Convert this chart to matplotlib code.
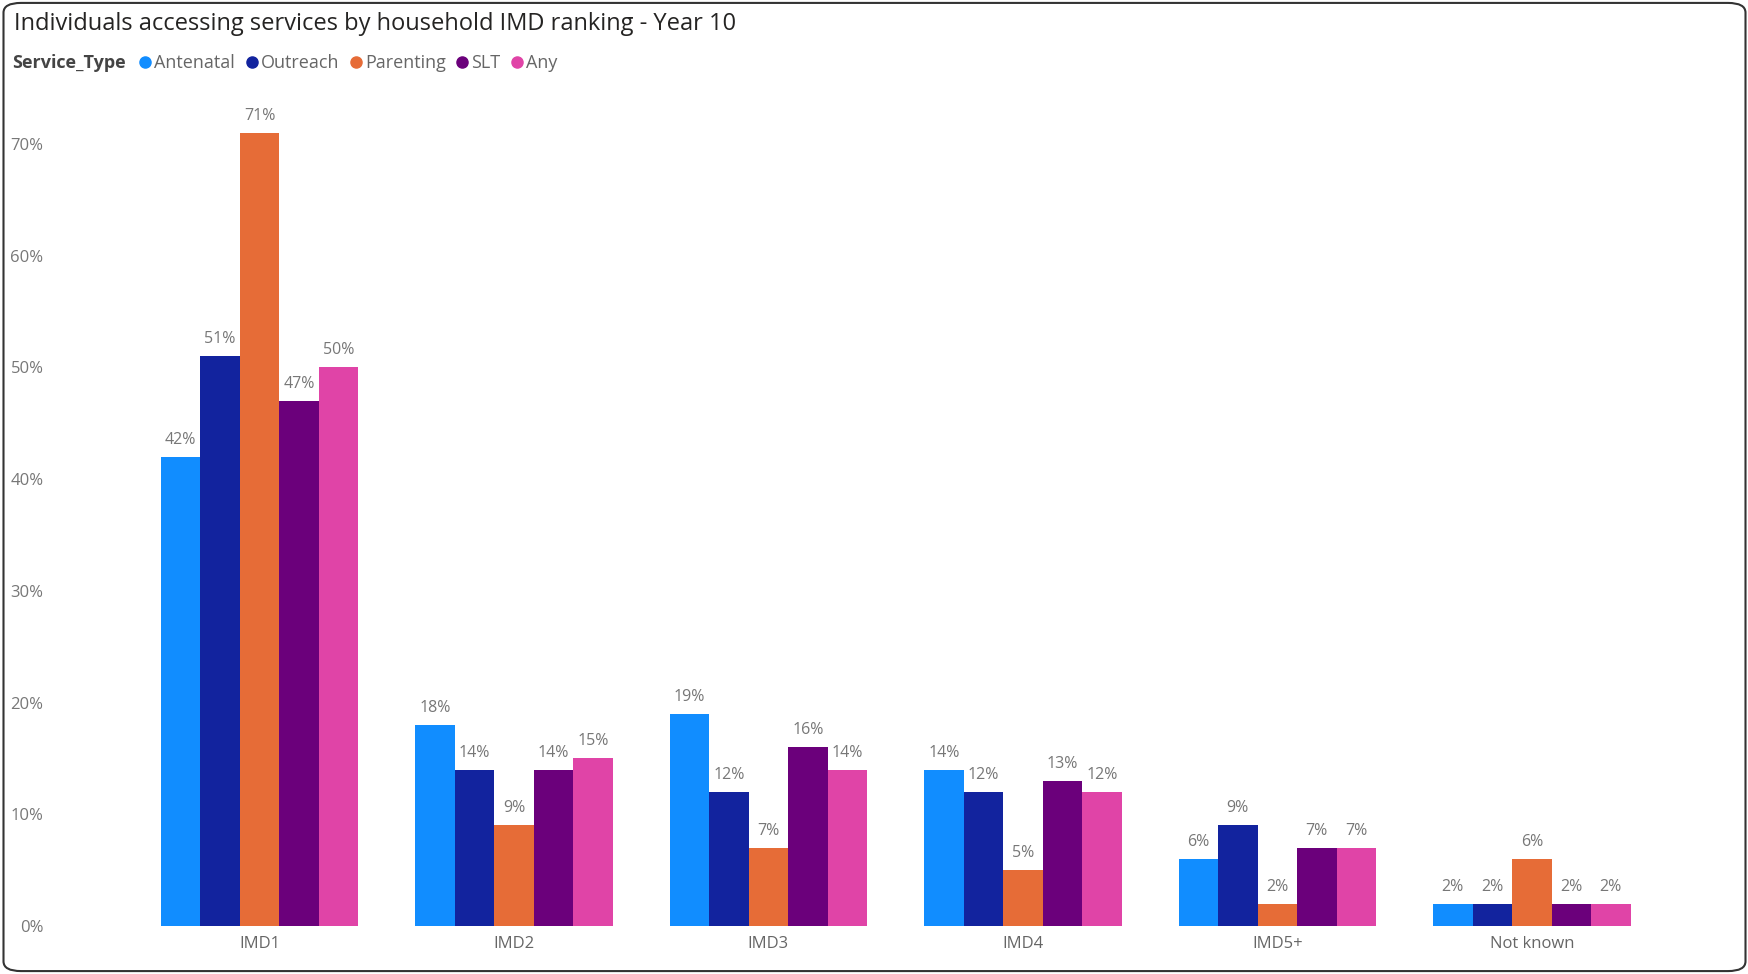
import matplotlib.pyplot as plt
from matplotlib.patches import FancyBboxPatch
from matplotlib.lines import Line2D
import numpy as np

plt.rcParams['font.family'] = ['Open Sans', 'DejaVu Sans']

# Данные
categories = ['IMD1', 'IMD2', 'IMD3', 'IMD4', 'IMD5+', 'Not known']
service_types = ['Antenatal', 'Outreach', 'Parenting', 'SLT', 'Any']
antenatal = [42, 18, 19, 14, 6, 2]
outreach = [51, 14, 12, 12, 9, 2]
parenting = [71, 9, 7, 5, 2, 6]
slt = [47, 14, 16, 13, 7, 2]
any_service = [50, 15, 14, 12, 7, 2]
series = [antenatal, outreach, parenting, slt, any_service]
colors = ['#118DFF', '#12239E', '#E66C37', '#6B007B', '#E044A7']

fig = plt.figure(figsize=(17.49, 9.74), dpi=100)
ax = fig.add_axes([0.032, 0.0493, 0.918, 0.842])

x = np.arange(len(categories))
group_w = 0.776
bar_w = group_w / len(series)
for i, (vals, col) in enumerate(zip(series, colors)):
    pos = x - group_w / 2 + bar_w * (i + 0.5)
    bars = ax.bar(pos, vals, width=bar_w, color=col, linewidth=0)
    for b, v in zip(bars, vals):
        ax.text(b.get_x() + b.get_width() / 2, v + 0.8, f'{v}%', ha='center', va='bottom',
                fontsize=11.5, color='#777777', clip_on=False)

ax.set_xlim(-0.80, 5.51)
ax.set_ylim(0, 73.4)
ax.set_xticks(x)
ax.set_xticklabels(categories, fontsize=12, color='#666666')
ax.set_yticks(range(0, 71, 10))
ax.set_yticklabels([f'{t}%' for t in range(0, 71, 10)], fontsize=12, color='#777777')
ax.tick_params(length=0, pad=9)
ax.tick_params(axis='x', pad=7)
for s in ax.spines.values():
    s.set_visible(False)

# Заголовок и легенда
fig.text(0.008, 0.988, 'Individuals accessing services by household IMD ranking - Year 10',
         fontsize=17, color='#252423', ha='left', va='top')
fig.text(0.007, 0.935, 'Service_Type', fontsize=13, fontweight='bold', color='#444444',
         ha='left', va='center')
handles = [Line2D([], [], marker='o', linestyle='', color=c, markersize=8) for c in colors]
fig.legend(handles, service_types, loc='center left', bbox_to_anchor=(0.078, 0.935),
           ncol=5, frameon=False, fontsize=13, handletextpad=0.0, columnspacing=0.42,
           labelcolor='#666666', borderaxespad=0, borderpad=0, handlelength=1.0)

# Рамка
border = FancyBboxPatch((0.002, 0.003), 0.996, 0.994, boxstyle='round,pad=0,rounding_size=0.01',
                        transform=fig.transFigure, fill=False, edgecolor='#333333', linewidth=1.5)
fig.patches.append(border)

fig.savefig('out.png', dpi=100)
